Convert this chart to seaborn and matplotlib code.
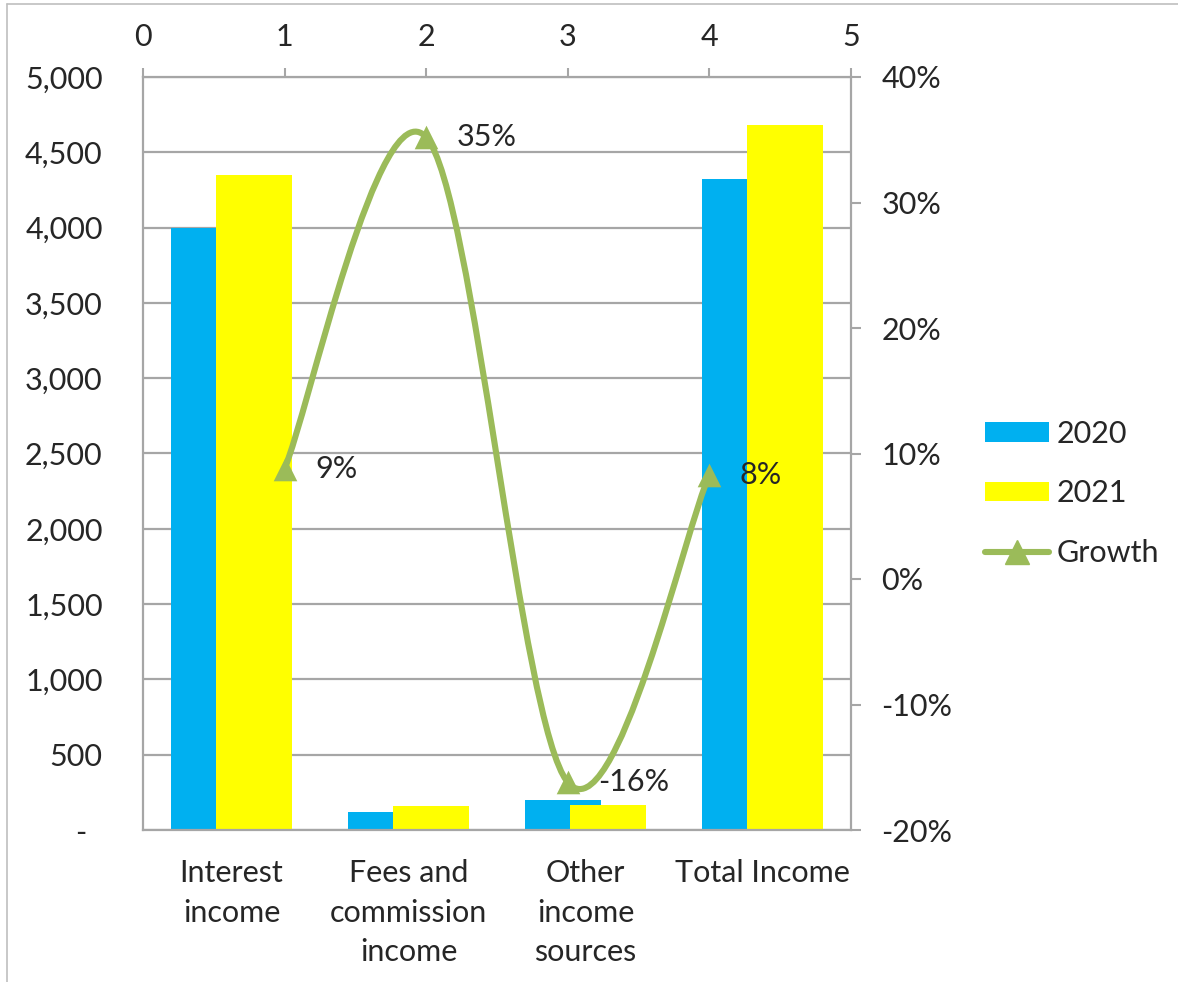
import numpy as np
import pandas as pd
import matplotlib
matplotlib.use("Agg")
import matplotlib.pyplot as plt
import seaborn as sns
from matplotlib.path import Path
from matplotlib.patches import PathPatch, Patch
from matplotlib.lines import Line2D

# data
categories = ["Interest\nincome", "Fees and\ncommission\nincome", "Other\nincome\nsources", "Total Income"]
years = ["2020", "2021"]
values_2020 = [4000, 120, 200, 4320]
values_2021 = [4350, 162, 168, 4680]
growth_x = [1, 2, 3, 4]
growth = [0.088, 0.352, -0.162, 0.083]

left_ticks = list(range(0, 5001, 500))
left_labels = ["-  "] + [f"{v:,}" for v in left_ticks[1:]]
right_ticks = [-0.2, -0.1, 0.0, 0.1, 0.2, 0.3, 0.4]
right_labels = [f"{v:.0%}" for v in right_ticks]
top_ticks = [0, 1, 2, 3, 4, 5]

BLUE = "#00B0F0"
YELLOW = "#FFFF00"
GREEN = "#9BBB59"
GRAY = "#A6A6A6"
TEXT = "#262626"
FS = 22

sns.set_style("white")
plt.rcParams["font.family"] = ["Lato", "DejaVu Sans"]
plt.rcParams["text.color"] = TEXT

df = pd.DataFrame({
    "category": categories * 2,
    "year": [years[0]] * len(categories) + [years[1]] * len(categories),
    "value": values_2020 + values_2021,
})

W, H = 1178, 982
fig = plt.figure(figsize=(W / 100, H / 100), dpi=100)
pos = [143 / W, 1 - 830 / H, 708 / W, 753 / H]
ax = fig.add_axes(pos)

# overlapping bars: negative gap widens each dodged bar
sns.barplot(data=df, x="category", y="value", hue="year", hue_order=years,
            palette=[BLUE, YELLOW], saturation=1, width=0.508, gap=-0.67,
            linewidth=0, errorbar=None, legend=False, ax=ax)
ax.set_xlim(-0.5, 3.5)
ax.set_ylim(0, 5000)
ax.set_yticks(left_ticks)
ax.set_yticklabels(left_labels)
ax.set_xlabel("")
ax.set_ylabel("")
ax.yaxis.grid(True, color=GRAY, lw=1.6)
ax.set_axisbelow(True)
ax.tick_params(axis="y", length=0, pad=29, labelsize=FS, labelcolor=TEXT)
ax.tick_params(axis="x", length=0, pad=21, labelsize=FS, labelcolor=TEXT)
for lab in ax.get_xticklabels():
    lab.set_linespacing(1.5)
for s in ["top", "right"]:
    ax.spines[s].set_visible(False)
for s in ["left", "bottom"]:
    ax.spines[s].set_color(GRAY)
    ax.spines[s].set_linewidth(1.6)

# secondary axes: top x 0..5, right y -20%..40%
ax2 = fig.add_axes(pos)
ax2.patch.set_visible(False)
ax2.xaxis.tick_top()
ax2.yaxis.tick_right()
ax2.set_xlim(0, 5)
ax2.set_ylim(-0.2, 0.4)
ax2.set_xticks(top_ticks)
ax2.set_xticklabels([str(t) for t in top_ticks])
ax2.set_yticks(right_ticks)
ax2.set_yticklabels(right_labels)
ax2.tick_params(axis="x", direction="out", length=6.5, width=1.5, color=GRAY,
                pad=12, labelsize=FS, labelcolor=TEXT)
ax2.tick_params(axis="y", direction="out", length=7, width=1.5, color=GRAY,
                pad=15, labelsize=FS, labelcolor=TEXT)
for s in ["left", "bottom"]:
    ax2.spines[s].set_visible(False)
for s in ["top", "right"]:
    ax2.spines[s].set_visible(True)
    ax2.spines[s].set_color(GRAY)
    ax2.spines[s].set_linewidth(1.6)

# smoothed growth line (Excel style bezier through the points)
pts = np.column_stack([growth_x, growth]).astype(float)
n = len(pts)
verts = [pts[0]]
codes = [Path.MOVETO]
for i in range(n - 1):
    p_prev = pts[max(i - 1, 0)]
    p_next = pts[min(i + 2, n - 1)]
    verts += [pts[i] + (pts[i + 1] - p_prev) / 6,
              pts[i + 1] - (p_next - pts[i]) / 6,
              pts[i + 1]]
    codes += [Path.CURVE4] * 3
ax2.add_patch(PathPatch(Path(verts, codes), facecolor="none", edgecolor=GREEN,
                        lw=4.4, capstyle="round", joinstyle="round", zorder=2))
sns.scatterplot(x=growth_x, y=growth, marker="^", s=17 ** 2, color=GREEN,
                linewidth=0, ax=ax2, zorder=3)
for x, g in zip(growth_x, growth):
    ax2.annotate(f"{g:.0%}", (x, g), xytext=(22, 0), textcoords="offset points",
                 ha="left", va="center", fontsize=FS, color=TEXT)

handles = [Patch(facecolor=BLUE, lw=0), Patch(facecolor=YELLOW, lw=0),
           Line2D([], [], color=GREEN, lw=4.4, marker="^", ms=17,
                  solid_capstyle="round")]
fig.legend(handles, years + ["Growth"], loc="center left",
           bbox_to_anchor=(985 / W, 1 - 493.5 / H), frameon=False, fontsize=FS,
           handlelength=2.1, handleheight=0.6, handletextpad=0.25,
           labelspacing=1.04, borderpad=0, borderaxespad=0)

# chart-area border (left and top visible)
fig.add_artist(Line2D([7 / W, 7 / W], [0, 1 - 4 / H], color="#BFBFBF", lw=1.2,
                      transform=fig.transFigure))
fig.add_artist(Line2D([7 / W, 1], [1 - 4 / H, 1 - 4 / H], color="#BFBFBF", lw=1.2,
                      transform=fig.transFigure))

fig.savefig("out.png", dpi=100)
